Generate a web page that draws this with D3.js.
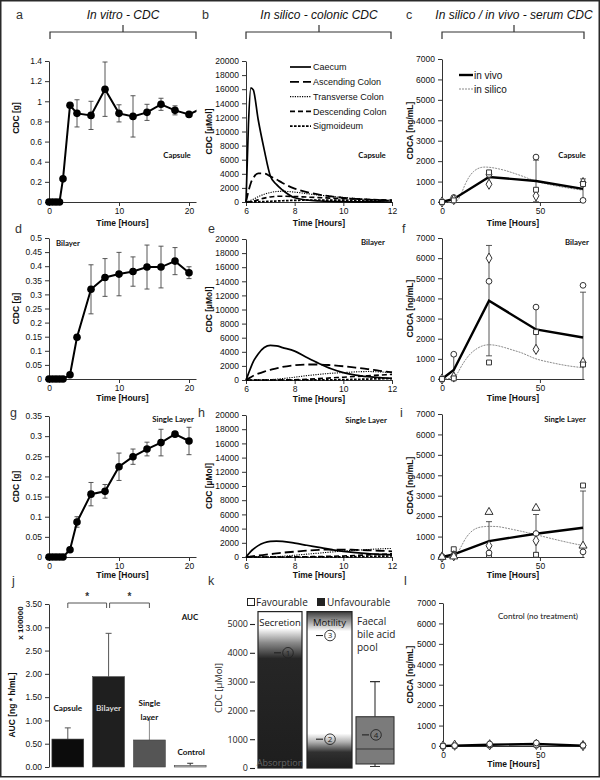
<!DOCTYPE html>
<html><head><meta charset="utf-8">
<script src="https://cdn.jsdelivr.net/npm/d3@7"></script>
<style>body{margin:0;background:#fff}svg{display:block}</style>
</head><body><svg id="c" width="600" height="780"></svg>
<script>
// ================= DATA =================
// In vitro release (panels a, d, g)
const vitroTimes = [0,0.5,1,1.5,2,3,4,6,8,10,12,14,16,18,20,24];
const vitroCapsule    = [0,0,0,0,0.23,0.96,0.88,0.86,1.12,0.88,0.85,0.89,0.97,0.91,0.87,1.0];
const vitroCapsuleErr = [0,0,0,0,0,0,0.135,0.14,0.27,0.085,0.205,0.08,0.06,0.045,0,0];
const vitroBilayer    = [0,0,0,0,0,0.015,0.148,0.318,0.36,0.372,0.381,0.397,0.397,0.418,0.377];
const vitroBilayerErr = [0,0,0,0,0,0,0,0.087,0.067,0.077,0.052,0.078,0.074,0.048,0.021];
const vitroSingle     = [0,0,0,0,0,0.018,0.087,0.156,0.163,0.224,0.249,0.268,0.284,0.305,0.288];
const vitroSingleErr  = [0,0,0,0,0,0,0.013,0.029,0.017,0.034,0.019,0.017,0.033,0,0.034];
const vitroTicksX = [0,10,20];
const ticksCapsuleY = [0,0.2,0.4,0.6,0.8,1,1.2,1.4];
const ticksBilayerY = [0,0.05,0.1,0.15,0.2,0.25,0.3,0.35,0.4,0.45,0.5];
const ticksSingleY  = [0,0.05,0.1,0.15,0.2,0.25,0.3,0.35];

// In silico colonic CDC (panels b, e, h)
const colonTimes = [6,6.1,6.2,6.3,6.5,6.75,7,7.25,7.5,8,8.5,9,9.5,10,10.5,11,11.5,12];
const colonSegments = ["Caecum","Ascending Colon","Transverse Colon","Descending Colon","Sigmoideum"];
const capsuleCaecum     = [0,11000,16200,15900,11700,7400,3700,2500,1700,600,280,140,70,40,20,10,5,0];
const capsuleAscending  = [0,1500,2700,3400,4050,4050,3650,3200,2700,1900,1400,1050,800,600,450,330,250,180];
const capsuleTransverse = [0,100,250,400,750,1100,1350,1480,1520,1400,1180,980,800,640,500,380,290,220];
const capsuleDescending = [0,10,50,120,300,550,720,800,820,780,700,620,550,480,420,360,310,260];
const capsuleSigmoid    = [0,0,5,10,30,60,100,140,180,230,260,270,270,260,240,220,200,180];
const bilayerCaecum     = [0,900,1800,2600,3700,4600,4900,4850,4600,4100,3200,2350,1600,1050,700,480,330,240];
const bilayerAscending  = [0,200,400,600,900,1200,1450,1650,1850,2100,2200,2200,2100,1950,1750,1550,1300,1100];
const bilayerTransverse = [0,0,0,0,10,30,60,120,200,400,620,800,950,1050,1150,1200,1150,1050];
const bilayerDescending = [0,0,0,0,0,0,0,5,15,40,100,200,300,400,500,600,700,800];
const bilayerSigmoid    = [0,0,0,0,0,0,0,0,0,0,5,10,25,50,90,130,170,200];
const singleCaecum      = [0,400,800,1100,1600,2000,2200,2250,2200,1950,1650,1350,1050,800,620,480,380,300];
const singleAscending   = [0,30,80,130,200,300,400,500,600,750,900,1000,1050,1050,1000,950,880,800];
const singleTransverse  = [0,0,0,0,0,10,30,60,100,250,400,550,700,850,950,1050,1150,1200];
const singleDescending  = [0,0,0,0,0,0,0,0,5,20,40,60,100,150,220,300,380,450];
const singleSigmoid     = [0,0,0,0,0,0,0,0,0,0,0,5,10,20,40,80,120,150];
const colonTicksX = [6,8,10,12];
const colonTicksY = [0,2000,4000,6000,8000,10000,12000,14000,16000,18000,20000];

// Serum CDCA (panels c, f, i, l)
const serumTimes = [0,6,24,48,72];
const silicoTimes = [0,6,8,10,12,14,16,18,20,22,24,28,32,36,40,48,56,64,72];
const capsuleVivo    = [0,150,1220,1030,640];
const capsuleVivoErr = [0,70,310,1020,490];
const capsuleCircle  = [0,220,1350,2200,80];
const capsuleDiamond = [0,120,870,300,950];
const capsuleSquare  = [0,80,1450,600,880];
const capsuleSilico  = [0,0,80,450,900,1250,1480,1620,1690,1710,1700,1640,1550,1430,1300,1020,830,690,580];
const bilayerVivo    = [0,450,3890,2460,2060];
const bilayerVivoErr = [0,700,2740,1060,2250];
const bilayerCircle  = [0,1230,4850,3570,4650];
const bilayerDiamond = [0,100,6000,1470,820];
const bilayerSquare  = [0,30,820,2330,720];
const bilayerSilico  = [0,50,300,650,950,1200,1380,1520,1620,1680,1700,1660,1560,1440,1320,1000,810,660,560];
const singleVivo     = [0,130,780,1140,1430];
const singleVivoErr  = [0,150,950,940,1800];
const singleSquare   = [0,380,100,110,3500];
const singleCircle   = [0,100,200,1150,250];
const singleDiamond  = [0,60,550,800,null];
const singleTriangle = [0,20,2200,2400,550];
const singleSilico   = [0,0,200,550,900,1150,1320,1420,1470,1490,1500,1490,1430,1350,1270,1090,900,720,560];
const controlVivo    = [0,20,60,100,20];
const controlCircle  = [0,20,100,150,30];
const controlDiamond = [0,40,60,80,20];
const controlSquare  = [0,10,40,60,20];
const serumTicksX = [0,50];
const serumTicksY = [0,1000,2000,3000,4000,5000,6000,7000];

// AUC (panel j)
const aucGroups = ["Capsule","Bilayer","Single layer","Control"];
const aucValues = [0.60,1.94,0.58,0.03];
const aucErrors = [0.24,0.93,0.44,0.05];
const aucTicks  = [0,0.5,1,1.5,2,2.5,3,3.5];

// Physiological ranges (panel k)
const kTicks = [0,1000,2000,3000,4000,5000];
const kTop = 5430;
const secretionStops = [[5430,"#ffffff"],[4850,"#ffffff"],[4350,"#8a8a8a"],[3800,"#262626"],[0,"#1e1e1e"]];
const motilityStops  = [[5430,"#3c3c3c"],[4750,"#ffffff"],[1200,"#ffffff"],[900,"#b0b0b0"],[550,"#303030"],[0,"#1e1e1e"]];
const faecalBox = {min:50, q1:140, median:660, q3:1780, max:3000};
const markerValues = [4000, 1000, 4600, 1150]; // 1 secretion, 2 motility low, 3 motility high, 4 faecal pool

// ================= DRAWING =================
const svg = d3.select("#c");
svg.append("rect").attr("width",600).attr("height",780).attr("fill","#fff");
const FONT = "'Liberation Sans',Arial,Helvetica,sans-serif";
const CAL = "Lato,'Open Sans',sans-serif";
const MYR = "'Open Sans','Noto Sans',sans-serif";
const defs = svg.append("defs");
let clipN = 0;
function clip(x0,y0,x1,y1){
  const id = "cl"+(clipN++);
  defs.append("clipPath").attr("id",id).append("rect").attr("x",x0).attr("y",y0).attr("width",x1-x0).attr("height",y1-y0);
  return `url(#${id})`;
}
function txt(x,y,s,o={}){
  const t = svg.append("text").attr("x",x).attr("y",y).text(s)
    .attr("font-family",o.f||FONT).attr("font-size",o.size||9)
    .attr("text-anchor",o.anchor||"start").attr("fill",o.fill||"#111");
  if(o.weight) t.attr("font-weight",o.weight);
  if(o.style) t.attr("font-style",o.style);
  return t;
}
function yTitle(s,x,yc,size){
  svg.append("text").attr("transform",`translate(${x},${yc}) rotate(-90)`)
    .attr("text-anchor","middle").attr("dy","0.35em").attr("font-family",FONT)
    .attr("font-weight","bold").attr("font-size",size||8.5).attr("fill","#111").text(s);
}
function drawAxes(x,y,xTicks,yTicks,yFmt,xTitleDy){
  const gy = svg.append("g").attr("transform",`translate(${x.range()[0]},0)`)
    .call(d3.axisLeft(y).tickValues(yTicks).tickFormat(yFmt).tickSize(4).tickSizeOuter(0).tickPadding(3));
  const gx = svg.append("g").attr("transform",`translate(0,${y.range()[0]})`)
    .call(d3.axisBottom(x).tickValues(xTicks).tickFormat(d=>String(d)).tickSize(4).tickSizeOuter(0).tickPadding(1.5));
  [gy,gx].forEach(g=>{
    g.selectAll("path.domain").attr("stroke","#333").attr("stroke-width",1);
    g.selectAll("line").attr("stroke","#333");
    g.selectAll("text").attr("font-family",FONT).attr("font-size",8.5).attr("fill","#111");
  });
  txt((x.range()[0]+x.range()[1])/2, y.range()[0]+xTitleDy, "Time [Hours]",{anchor:"middle",weight:"bold",size:8.5}).attr("dy","0.35em");
}

// ---- frame
svg.append("rect").attr("x",0.75).attr("y",0.75).attr("width",598.5).attr("height",776).attr("fill","none").attr("stroke","#2a2a2a").attr("stroke-width",1.5);

// ---- column headers
const headers = [
  {title:"In vitro - CDC", cx:123, x0:50, x1:196},
  {title:"In silico - colonic CDC", cx:319, x0:246, x1:391},
  {title:"In silico / in vivo - serum CDC", cx:514, x0:442, x1:584}
];
headers.forEach(h=>{
  txt(h.cx,19,h.title,{anchor:"middle",style:"italic",size:12,fill:"#111"});
  svg.append("path").attr("d",`M${h.x0},39V32H${h.x1}V39M${h.cx},32V25`).attr("fill","none").attr("stroke","#333").attr("stroke-width",1.2);
});
// panel letters
[["a",16,19],["b",202,19],["c",406,19],["d",15,233],["e",208,233],["f",402,233],
 ["g",10,417],["h",198,417],["i",400,417],["j",12,585],["k",208,585],["l",404,585]]
 .forEach(([l,x,y])=>txt(x,y,l,{size:12.5,fill:"#333"}));

// ---- in vitro panels
function vitroPanel(vals,errs,ticks,yr,label,lx,ly,titleDy,ytc){
  const x = d3.scaleLinear().domain([0,21]).range([49,196]);
  const y = d3.scaleLinear().domain([ticks[0],ticks[ticks.length-1]]).range(yr);
  drawAxes(x,y,vitroTicksX,ticks,d=>String(d),titleDy);
  const pts = vals.map((v,i)=>({t:vitroTimes[i],v,e:errs[i]}));
  const g = svg.append("g").attr("clip-path",clip(30,yr[1]-20,196.5,yr[0]+10));
  const eb = pts.filter(p=>p.e>0);
  g.selectAll(".eb").data(eb).join("path")
    .attr("d",p=>`M${x(p.t)},${y(p.v-p.e)}V${y(p.v+p.e)}M${x(p.t)-2.5},${y(p.v-p.e)}h5M${x(p.t)-2.5},${y(p.v+p.e)}h5`)
    .attr("stroke","#444").attr("stroke-width",0.9).attr("fill","none");
  g.append("path").datum(pts).attr("d",d3.line().x(p=>x(p.t)).y(p=>y(p.v)))
    .attr("fill","none").attr("stroke","#000").attr("stroke-width",2);
  g.selectAll(".m").data(pts.filter(p=>p.t<=21)).join("circle")
    .attr("cx",p=>x(p.t)).attr("cy",p=>y(p.v)).attr("r",3.8).attr("fill","#000");
  txt(lx,ly,label,{f:CAL,weight:"bold",size:7.8,anchor:"middle"}).attr("dy","0.35em");
  yTitle("CDC [g]",16,ytc||(yr[0]+yr[1])/2);
}
vitroPanel(vitroCapsule,vitroCapsuleErr,ticksCapsuleY,[202,61],"Capsule",177,155,21,118);
vitroPanel(vitroBilayer,vitroBilayerErr,ticksBilayerY,[379,238],"Bilayer",68,243,19);
vitroPanel(vitroSingle,vitroSingleErr,ticksSingleY,[557,416],"Single Layer",173,419,18.5);

// ---- colon panels
const colonStyles = [
  {dash:null,w:1.7},{dash:"9,4",w:1.8},{dash:"1.2,1.2",w:1.1},{dash:"5,3",w:1.6},{dash:"2.6,1.4",w:1.7}
];
function colonPanel(series,yr,label,lx,ly,titleDy,legend){
  const x = d3.scaleLinear().domain([6,12]).range([246,392]);
  const y = d3.scaleLinear().domain([0,20000]).range(yr);
  drawAxes(x,y,colonTicksX,colonTicksY,d=>String(d),titleDy);
  const g = svg.append("g").attr("clip-path",clip(240,yr[1]-5,393,yr[0]+3));
  series.forEach((s,k)=>{
    const p = g.append("path").datum(colonTimes.map((t,i)=>[t,s[i]]))
      .attr("d",d3.line().x(d=>x(d[0])).y(d=>y(d[1])).curve(d3.curveMonotoneX))
      .attr("fill","none").attr("stroke","#000").attr("stroke-width",colonStyles[k].w);
    if(colonStyles[k].dash) p.attr("stroke-dasharray",colonStyles[k].dash);
  });
  txt(lx,ly,label,{f:CAL,weight:"bold",size:7.8,anchor:"middle"}).attr("dy","0.35em");
  yTitle("CDC [µMol]",209,(yr[0]+yr[1])/2);
  if(legend){
    colonSegments.forEach((name,k)=>{
      const yy = 67 + k*14.8;
      const l = svg.append("line").attr("x1",290).attr("x2",311).attr("y1",yy).attr("y2",yy)
        .attr("stroke","#000").attr("stroke-width",colonStyles[k].w);
      if(colonStyles[k].dash) l.attr("stroke-dasharray",colonStyles[k].dash);
      txt(313,yy,name,{size:9}).attr("dy","0.35em");
    });
  }
}
colonPanel([capsuleCaecum,capsuleAscending,capsuleTransverse,capsuleDescending,capsuleSigmoid],[202,61],"Capsule",372,155,21,true);
colonPanel([bilayerCaecum,bilayerAscending,bilayerTransverse,bilayerDescending,bilayerSigmoid],[380,239],"Bilayer",373,242,19,false);
colonPanel([singleCaecum,singleAscending,singleTransverse,singleDescending,singleSigmoid],[557,415],"Single Layer",366,420,18.5,false);

// ---- serum panels
const symbolOf = {circle:d3.symbolCircle, diamond:d3.symbolDiamond, square:d3.symbolSquare, triangle:d3.symbolTriangle};
const symbolSize = {circle:26, diamond:30, square:24, triangle:28};
function serumPanel(o){
  const x = d3.scaleLinear().domain([0,72.5]).range([o.x0||442,584]);
  const y = d3.scaleLinear().domain([0,7000]).range(o.yr);
  drawAxes(x,y,serumTicksX,serumTicksY,d=>String(d),o.titleDy);
  const g = svg.append("g").attr("clip-path",clip(430,o.yr[1]-10,592,o.yr[0]+8));
  if(o.silico){
    g.append("path").datum(silicoTimes.map((t,i)=>[t,o.silico[i]]))
      .attr("d",d3.line().x(d=>x(d[0])).y(d=>y(d[1])).curve(d3.curveMonotoneX))
      .attr("fill","none").attr("stroke","#8a8a8a").attr("stroke-width",1).attr("stroke-dasharray","2,1");
  }
  const pts = serumTimes.map((t,i)=>({t,v:o.vivo[i],e:o.err?o.err[i]:0}));
  g.selectAll(".eb").data(pts.filter(p=>p.e>0)).join("path")
    .attr("d",p=>{const lo=Math.max(0,p.v-p.e), hi=p.v+p.e; return `M${x(p.t)},${y(lo)}V${y(hi)}M${x(p.t)-3},${y(hi)}h6`+(p.v-p.e>0?`M${x(p.t)-3},${y(lo)}h6`:"");})
    .attr("stroke","#444").attr("stroke-width",0.9).attr("fill","none");
  g.append("path").datum(pts).attr("d",d3.line().x(p=>x(p.t)).y(p=>y(p.v)))
    .attr("fill","none").attr("stroke","#000").attr("stroke-width",2.4);
  o.subjects.forEach(([shape,arr])=>{
    g.selectAll(null).data(serumTimes.map((t,i)=>({t,v:arr[i]})).filter(d=>d.v!==null)).join("path")
      .attr("transform",d=>`translate(${x(d.t)},${y(d.v)})`)
      .attr("d",d3.symbol().type(symbolOf[shape]).size(symbolSize[shape]))
      .attr("fill","#fff").attr("stroke","#333").attr("stroke-width",1);
  });
  txt(o.lx,o.ly,o.label,{f:CAL,weight:o.lw||"bold",size:o.ls||7.8,anchor:"middle"}).attr("dy","0.35em");
  yTitle("CDCA [ng/mL]",410,(o.yr[0]+o.yr[1])/2);
  if(o.legend){
    svg.append("line").attr("x1",459).attr("x2",473).attr("y1",75).attr("y2",75).attr("stroke","#000").attr("stroke-width",2.4);
    txt(474,75,"in vivo",{size:10}).attr("dy","0.35em");
    svg.append("line").attr("x1",459).attr("x2",473).attr("y1",89).attr("y2",89).attr("stroke","#8a8a8a").attr("stroke-width",1).attr("stroke-dasharray","2,1");
    txt(474,89,"in silico",{size:10}).attr("dy","0.35em");
  }
}
serumPanel({yr:[202,59],vivo:capsuleVivo,err:capsuleVivoErr,silico:capsuleSilico,
  subjects:[["circle",capsuleCircle],["diamond",capsuleDiamond],["square",capsuleSquare]],
  label:"Capsule",lx:572,ly:155,titleDy:21,legend:true});
serumPanel({yr:[379,238],vivo:bilayerVivo,err:bilayerVivoErr,silico:bilayerSilico,
  subjects:[["circle",bilayerCircle],["diamond",bilayerDiamond],["square",bilayerSquare]],
  label:"Bilayer",lx:577,ly:242,titleDy:19});
serumPanel({yr:[557,414],vivo:singleVivo,err:singleVivoErr,silico:singleSilico,
  subjects:[["square",singleSquare],["circle",singleCircle],["diamond",singleDiamond],["triangle",singleTriangle]],
  label:"Single Layer",lx:565,ly:419,titleDy:18.5});
serumPanel({yr:[746,603],x0:443,vivo:controlVivo,err:null,silico:null,
  subjects:[["diamond",controlDiamond],["square",controlSquare],["circle",controlCircle]],
  label:"Control (no treatment)",lx:538,ly:616,titleDy:18.5,lw:"normal",ls:8.2});

// ---- panel j: AUC bars
(function(){
  const x = d3.scaleBand().domain(aucGroups).range([47,211]).paddingInner(0.22).paddingOuter(0.12);
  const y = d3.scaleLinear().domain([0,3.5]).range([767,604]);
  const gy = svg.append("g").attr("transform","translate(49,0)")
    .call(d3.axisLeft(y).tickValues(aucTicks).tickFormat(d3.format(".2f")).tickSize(4).tickSizeOuter(0).tickPadding(3));
  gy.selectAll("path.domain,line").attr("stroke","#333");
  gy.selectAll("text").attr("font-family",FONT).attr("font-size",8.5).attr("fill","#111");
  const fills = ["#0c0c0c","#1f1f1f","#555555","#bdbdbd"];
  const errC = ["#555","#555","#8a8a8a","#333"];
  aucGroups.forEach((gname,i)=>{
    const bx = x(gname), bw = x.bandwidth(), cx = bx+bw/2;
    svg.append("path").attr("d",`M${cx},${y(aucValues[i])}V${y(aucValues[i]+aucErrors[i])}M${cx-3},${y(aucValues[i]+aucErrors[i])}h6`)
      .attr("stroke",errC[i]).attr("stroke-width",1).attr("fill","none");
    svg.append("rect").attr("x",bx).attr("width",bw).attr("y",y(aucValues[i])).attr("height",y(0)-y(aucValues[i]))
      .attr("fill",fills[i]).attr("stroke","#444").attr("stroke-width",0.6);
  });
  const c = g=>x(g)+x.bandwidth()/2;
  txt(c("Capsule"),711,"Capsule",{f:CAL,weight:"bold",size:8.2,anchor:"middle"});
  txt(c("Bilayer"),711,"Bilayer",{f:CAL,weight:"bold",size:8.2,anchor:"middle",fill:"#ddd"});
  txt(c("Single layer"),706,"Single",{f:CAL,weight:"bold",size:8.2,anchor:"middle"});
  txt(c("Single layer"),720,"layer",{f:CAL,weight:"bold",size:8.2,anchor:"middle"});
  txt(c("Control")+1,755,"Control",{f:CAL,weight:"bold",size:8.2,anchor:"middle"});
  txt(190,620,"AUC",{f:CAL,weight:"bold",size:8,anchor:"middle"});
  // significance brackets
  const by = 603;
  [[c("Capsule"),c("Bilayer")-2],[c("Bilayer")+1,c("Single layer")]].forEach(([a,b])=>{
    svg.append("path").attr("d",`M${a},${by+5}V${by}H${b}V${by+5}`).attr("fill","none").attr("stroke","#555").attr("stroke-width",1);
    txt((a+b)/2,600,"*",{size:10,anchor:"middle",weight:"bold",fill:"#333"});
  });
  yTitle("AUC [ng * h/mL]",12,705);
  yTitle("x 100000",20,623,8);
})();

// ---- panel k: physiological ranges
(function(){
  const yk = d3.scaleLinear().domain([0,5000]).range([768,624]);
  const g = svg.append("g").attr("transform","translate(255,0)")
    .call(d3.axisLeft(yk).tickValues(kTicks).tickFormat(d=>String(d)).tickSize(5).tickSizeOuter(0).tickPadding(2));
  g.select("path.domain").remove();
  g.selectAll("line").attr("stroke","#222").attr("stroke-width",1.1);
  g.selectAll("text").attr("font-family",MYR).attr("font-size",9).attr("fill","#222");
  svg.append("text").attr("transform","translate(219,688) rotate(-90)").attr("text-anchor","middle").attr("dy","0.35em")
    .attr("font-family",MYR).attr("font-size",9.5).attr("fill","#222").text("CDC [µMol]");
  function grad(id,stops){
    const lg = defs.append("linearGradient").attr("id",id).attr("gradientUnits","userSpaceOnUse")
      .attr("x1",0).attr("x2",0).attr("y1",yk(kTop)).attr("y2",yk(0));
    stops.forEach(([v,col])=>lg.append("stop").attr("offset",(yk(v)-yk(kTop))/(yk(0)-yk(kTop))).attr("stop-color",col));
  }
  grad("gSec",secretionStops); grad("gMot",motilityStops);
  svg.append("rect").attr("x",258).attr("width",44).attr("y",yk(kTop)).attr("height",yk(0)-yk(kTop))
    .attr("fill","url(#gSec)").attr("stroke","#222").attr("stroke-width",1.2);
  svg.append("rect").attr("x",307).attr("width",45).attr("y",yk(kTop)).attr("height",yk(0)-yk(kTop))
    .attr("fill","url(#gMot)").attr("stroke","#222").attr("stroke-width",1.2);
  txt(280,626,"Secretion",{f:MYR,size:9.5,anchor:"middle",fill:"#111"});
  txt(329.5,626,"Motility",{f:MYR,size:9.5,anchor:"middle",fill:"#111"});
  txt(280,766,"Absorption",{f:MYR,size:9,anchor:"middle",fill:"#666"});
  // faecal box plot
  const bx0 = 356, bx1 = 394, bc = (bx0+bx1)/2;
  svg.append("path").attr("d",`M${bc},${yk(faecalBox.max)}V${yk(faecalBox.q3)}M${bc},${yk(faecalBox.q1)}V${yk(faecalBox.min)}M${bc-5},${yk(faecalBox.max)}h10M${bc-5},${yk(faecalBox.min)}h10`)
    .attr("stroke","#333").attr("stroke-width",1.1).attr("fill","none");
  svg.append("rect").attr("x",bx0).attr("width",bx1-bx0).attr("y",yk(faecalBox.q3)).attr("height",yk(faecalBox.q1)-yk(faecalBox.q3))
    .attr("fill","#7b7b7b").attr("stroke","#333").attr("stroke-width",1.1);
  svg.append("line").attr("x1",bx0).attr("x2",bx1).attr("y1",yk(faecalBox.median)).attr("y2",yk(faecalBox.median)).attr("stroke","#333").attr("stroke-width",1);
  txt(357,625,"Faecal",{f:MYR,size:10,fill:"#222"});
  txt(357,638,"bile acid",{f:MYR,size:10,fill:"#222"});
  txt(357,651,"pool",{f:MYR,size:10,fill:"#222"});
  // numbered markers
  const mk = [[1,274,markerValues[0]],[2,316,markerValues[1]],[3,316,markerValues[2]],[4,362,markerValues[3]]];
  mk.forEach(([n,x0,v])=>{
    const yy = yk(v);
    svg.append("line").attr("x1",x0).attr("x2",x0+7).attr("y1",yy).attr("y2",yy).attr("stroke","#222").attr("stroke-width",1.1);
    svg.append("circle").attr("cx",x0+14).attr("cy",yy).attr("r",5.3).attr("fill","none").attr("stroke","#222").attr("stroke-width",0.9);
    txt(x0+14,yy,String(n),{f:MYR,size:8,anchor:"middle",fill:"#222"}).attr("dy","0.35em");
  });
  // legend
  svg.append("rect").attr("x",247.5).attr("y",598.5).attr("width",7).attr("height",7).attr("fill","#fff").attr("stroke","#222");
  txt(256,606,"Favourable",{f:MYR,size:10,fill:"#222"});
  svg.append("rect").attr("x",317).attr("y",598).attr("width",8).attr("height",8).attr("fill","#222");
  txt(327,606,"Unfavourable",{f:MYR,size:10,fill:"#222"});
})();
</script></body></html>
